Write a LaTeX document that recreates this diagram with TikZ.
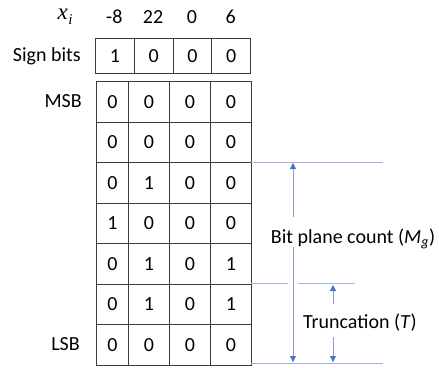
\documentclass[tikz,border=0pt]{standalone}
\usepackage{fontspec}
\setmainfont{Carlito}
\newfontfamily\symfont{Liberation Serif}
\usetikzlibrary{arrows.meta}
\definecolor{gridline}{HTML}{3A3A3A}
\definecolor{guide}{HTML}{9DB5DE}
\definecolor{dimline}{HTML}{8A9DC4}
\definecolor{tipblue}{HTML}{4472C4}
\begin{document}
\begin{tikzpicture}[x=1pt,y=-1pt,
  every node/.style={font=\fontsize{20}{24}\selectfont, inner sep=0pt},
  cell/.style={draw=gridline, line width=1.1pt, anchor=north west,
    text height=12.6pt, text depth=0pt, align=center},
  lbl/.style={text height=12.6pt, text depth=0pt},
  guideline/.style={draw=guide, line width=0.8pt},
  dimarrow/.style={draw=dimline, line width=0.8pt,
    -{Triangle[length=6pt,width=6pt,color=tipblue]}}]
\useasboundingbox (0,0) rectangle (439,367);

% header: values of x_i
\node[font=\fontsize{23}{26}\symfont\itshape] (xi) at (65,17)
  {x\kern0.5pt\raisebox{-5pt}{\fontsize{15}{15}\selectfont i}};
\foreach \v [count=\k] in {-8,22,0,6}
  \node[lbl] (val\k) at (95+38.75*\k-19.4,17) {\v};

% sign bit row
\node[lbl, anchor=east] (signlbl) at (81,55) {Sign bits};
\foreach \b [count=\k] in {1,0,0,0}
  \node[cell, minimum width=38.75pt, minimum height=35pt] (s\k)
    at (95+38.75*\k-38.75,38) {\b};

% bit planes, MSB at the top
\node[lbl, anchor=east] (msb) at (82,101) {MSB};
\node[lbl, anchor=east] (lsb) at (80,344) {LSB};
\foreach \r/\row in {1/{0,0,0,0},2/{0,0,0,0},3/{0,1,0,0},4/{1,0,0,0},
                     5/{0,1,0,1},6/{0,1,0,1},7/{0,0,0,0}} {
  \foreach \b [count=\k] in \row {
    \ifnum\k=1
      \node[cell, minimum width=32pt, minimum height=40.5pt] (p\r-\k)
        at (96,81+40.5*\r-40.5) {\b};
    \else
      \node[cell, minimum width=41pt, minimum height=40.5pt] (p\r-\k)
        at (128+41*\k-82,81+40.5*\r-40.5) {\b};
    \fi
  }
}

% guide lines to the right of the grid
\coordinate (g1a) at (251,162);  \coordinate (g1b) at (383,162);
\coordinate (g2a) at (251,283);  \coordinate (g2b) at (288,283);
\coordinate (g2c) at (298,283);  \coordinate (g2d) at (355,283);
\coordinate (g3a) at (251,363);  \coordinate (g3b) at (383,363);
\draw[guideline] (g1a) -- (g1b);
\draw[guideline] (g2a) -- (g2b);
\draw[guideline] (g2c) -- (g2d);
\draw[guideline] (g3a) -- (g3b);

% bit plane count
\node[lbl] (bpc) at (353,237) {Bit plane count (\textit{M}\textsubscript{\textit{g}})};
\coordinate (m1) at (293,217); \coordinate (mtop) at (293,163);
\coordinate (m2) at (293,247); \coordinate (mbot) at (293,362);
\draw[dimarrow] (m1) -- (mtop);
\draw[dimarrow] (m2) -- (mbot);

% truncation
\node[lbl] (trunc) at (360,322) {Truncation (\textit{T})};
\coordinate (t1) at (333,304); \coordinate (ttop) at (333,285);
\coordinate (t2) at (333,337); \coordinate (tbot) at (333,362);
\draw[dimarrow] (t1) -- (ttop);
\draw[dimarrow] (t2) -- (tbot);
\end{tikzpicture}
\end{document}
